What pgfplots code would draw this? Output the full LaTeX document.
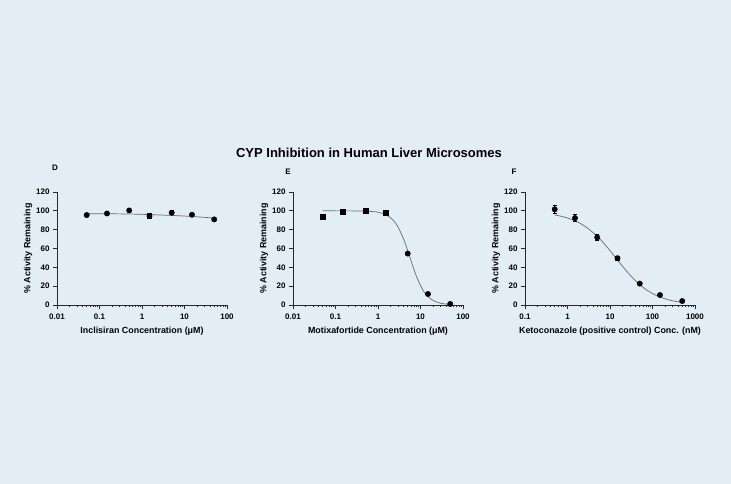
\documentclass[border=0pt]{standalone}
\usepackage{fontspec}
\setmainfont{Liberation Sans}
\usepackage{pgfplots}
\usepackage{pgfplotstable}
\pgfplotsset{compat=1.18}

\definecolor{bg}{RGB}{227,237,246}
\definecolor{fitgray}{RGB}{105,105,105}
\definecolor{axgray}{RGB}{40,40,40}

% measured points: concentration, % activity, SD
\pgfplotstableread{
x    y     e
0.05 95.5  1.0
0.15 97.2  1.0
0.5  100.4 1.0
1.5  94.4  2.5
5    98.0  2.0
15   95.8  1.0
50   90.9  1.2
}\inclisiran
\pgfplotstableread{
x    y     e
0.05 94.2  1.0
0.15 98.8  1.0
0.5  99.8  3.0
1.5  97.7  1.0
}\motixaSq
\pgfplotstableread{
x    y     e
5    54.6  1.0
15   11.7  1.0
50   1.1   0.8
}\motixaCi
\pgfplotstableread{
x    y     e
0.5  101.6 4.0
1.5  92.3  4.0
5    71.7  3.0
15   49.7  2.0
50   22.7  1.2
150  10.6  1.0
500  4.2   1.0
}\ketoconazole

\pgfplotsset{
  /pgf/number format/assume math mode=true,
  every axis/.append style={
    scale only axis, width=170pt, height=113pt,
    anchor=south west,
    axis lines=left,
    axis line style={-, line width=0.8pt, axgray},
    ymin=0, ymax=120, ytick={0,20,...,120},
    tick align=outside,
    major tick length=4pt, minor tick length=2.2pt,
    tick style={axgray, line width=0.7pt},
    tick label style={font=\bfseries\fontsize{8}{9}\selectfont},
    xticklabel style={yshift=-1pt},
    label style={font=\bfseries\fontsize{8.9}{10}\selectfont},
    ylabel={\% Activity Remaining},
    ylabel style={yshift=-3pt},
    xlabel style={yshift=-1pt},
    clip=false,
  },
}
\tikzset{
  fitline/.style={fitgray, line width=0.7pt, smooth},
  errstyle/.style={black, line width=0.7pt},
}

\begin{document}
\begin{tikzpicture}
\fill[bg] (0,0) rectangle (731pt,484pt);
\useasboundingbox (0,0) rectangle (731pt,484pt);

\node[font=\bfseries\fontsize{13}{15}\selectfont] at (369pt,331pt) {CYP Inhibition in Human Liver Microsomes};
\node[font=\bfseries\fontsize{8}{9}\selectfont] at (55pt,316pt) {D};
\node[font=\bfseries\fontsize{8}{9}\selectfont] at (288pt,312pt) {E};
\node[font=\bfseries\fontsize{8}{9}\selectfont] at (514pt,312pt) {F};

% Panel D
\begin{axis}[at={(57pt,179pt)}, xmode=log,
  xmin=0.01, xmax=100,
  xtick={0.01,0.1,1,10,100}, xticklabels={0.01,0.1,1,10,100},
  xlabel={Inclisiran Concentration (μM)}]
\addplot[fitline, no marks] coordinates {(0.05,97.0) (0.15,96.9) (0.5,96.6) (1.5,96.0) (5,95.1) (15,94.0) (50,92.3)};
\addplot[black, only marks, mark=*, mark size=2.7pt,
  error bars/.cd, y dir=both, y explicit, error bar style={errstyle},
  error mark options={errstyle, rotate=90, mark size=2.2pt}]
  table[x=x, y=y, y error=e] {\inclisiran};
\end{axis}

% Panel E
\begin{axis}[at={(293pt,179pt)}, xmode=log,
  xmin=0.01, xmax=100,
  xtick={0.01,0.1,1,10,100}, xticklabels={0.01,0.1,1,10,100},
  xlabel={Motixafortide Concentration (μM)}]
\addplot[fitline, no marks] coordinates {
  (0.05,100.0) (0.3,99.9) (0.6,99.55) (1,98.5) (1.5,96.1) (2,92.5)
  (2.5,87.8) (3,82.4) (4,70.1) (5,57.8) (6,46.9) (7,37.9) (8,30.7)
  (10,20.6) (12,14.3) (15,8.9) (20,4.7) (30,1.8) (50,0.54)};
\addplot[black, only marks, mark=square*, mark size=2.5pt,
  error bars/.cd, y dir=both, y explicit, error bar style={errstyle},
  error mark options={errstyle, rotate=90, mark size=2.2pt}]
  table[x=x, y=y, y error=e] {\motixaSq};
\addplot[black, only marks, mark=*, mark size=2.7pt,
  error bars/.cd, y dir=both, y explicit, error bar style={errstyle},
  error mark options={errstyle, rotate=90, mark size=2.2pt}]
  table[x=x, y=y, y error=e] {\motixaCi};
\end{axis}

% Panel F
\begin{axis}[at={(525pt,179pt)}, xmode=log,
  xmin=0.1, xmax=1000,
  xtick={0.1,1,10,100,1000}, xticklabels={0.1,1,10,100,1000},
  xlabel={Ketoconazole (positive control) Conc. (nM)}]
\addplot[fitline, no marks] coordinates {
  (0.5,95.6) (0.7,94.3) (1,92.4) (1.5,89.4) (2,86.6) (3,81.5) (5,72.9)
  (7,66.0) (10,57.8) (15,47.8) (20,40.8) (30,31.5) (50,21.7) (70,16.5)
  (100,12.2) (150,8.45) (200,6.5) (300,4.4) (500,2.7)};
\addplot[black, only marks, mark=*, mark size=2.7pt,
  error bars/.cd, y dir=both, y explicit, error bar style={errstyle},
  error mark options={errstyle, rotate=90, mark size=2.2pt}]
  table[x=x, y=y, y error=e] {\ketoconazole};
\end{axis}
\end{tikzpicture}
\end{document}
